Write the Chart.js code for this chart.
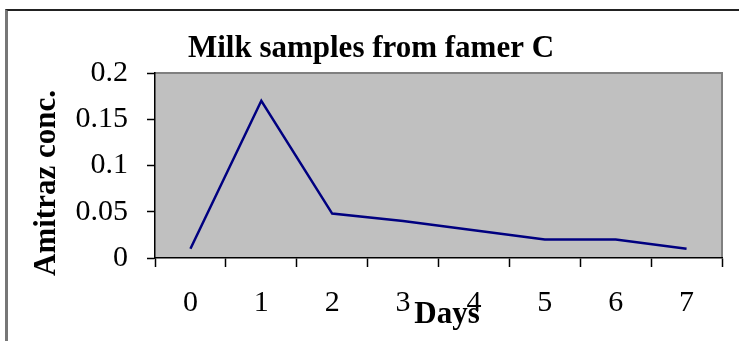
<!DOCTYPE html>
<html lang="en">

<head>
    <meta charset="UTF-8">
    <title>Milk samples from famer C</title>
    <script src="https://cdn.jsdelivr.net/npm/chart.js"></script>
    <style>
        html, body { margin: 0; padding: 0; background: #fff; }
        #wrap { position: relative; width: 739px; height: 341px; overflow: hidden; }
        /* outer frame of the chart, only top and left edges are in view */
        #frame {
            position: absolute; left: 5px; top: 9px; right: -10px; bottom: -10px;
            border-top: 2px solid #222; border-left: 3px solid #777;
            pointer-events: none;
        }
    </style>
</head>

<body>
    <div id="wrap">
        <canvas id="myChart" width="739" height="341"></canvas>
        <div id="frame"></div>
    </div>

    <script>
        // DATA
        const days = ['0', '1', '2', '3', '4', '5', '6', '7'];
        const amitraz = [0.01, 0.17, 0.048, 0.04, 0.03, 0.02, 0.02, 0.01];
        const yTickLabels = ['0', '0.05', '0.1', '0.15', '0.2'];

        const chartTitle = 'Milk samples from famer C';
        const xTitle = 'Days';
        const yTitle = 'Amitraz conc.';

        const serif = '"Liberation Serif", "Times New Roman", serif';

        // gray plot area + text labels drawn by hand
        const plotArea = {
            id: 'plotArea',
            beforeDraw(chart) {
                const { ctx, chartArea: a } = chart;
                ctx.save();
                ctx.fillStyle = '#c0c0c0';
                ctx.fillRect(a.left, a.top, a.right - a.left, a.bottom - a.top);
                ctx.strokeStyle = '#808080';
                ctx.lineWidth = 2;
                ctx.beginPath();
                ctx.moveTo(a.left, a.top);
                ctx.lineTo(a.right, a.top);
                ctx.lineTo(a.right, a.bottom);
                ctx.stroke();
                ctx.restore();
            },
            afterDraw(chart) {
                const { ctx } = chart;
                ctx.save();
                ctx.fillStyle = '#000';
                ctx.textAlign = 'center';
                ctx.textBaseline = 'alphabetic';
                // title
                ctx.font = 'bold 31px ' + serif;
                ctx.fillText(chartTitle, 371, 57);
                // x title, overlapping the tick labels like the original
                ctx.font = 'bold 31px ' + serif;
                ctx.fillText(xTitle, 447, 323);
                // y title
                ctx.translate(55, 183);
                ctx.rotate(-Math.PI / 2);
                ctx.fillText(yTitle, 0, 0);
                ctx.restore();
            }
        };

        const data = {
            labels: days,
            datasets: [{
                label: 'Amitraz',
                data: amitraz,
                borderColor: '#000080',
                borderWidth: 2.5,
                pointRadius: 0,
                tension: 0,
                fill: false
            }]
        };

        const config = {
            type: 'line',
            data: data,
            options: {
                responsive: false,
                animation: false,
                layout: { padding: { left: 0, right: 17, top: 73, bottom: 0 } },
                plugins: {
                    legend: { display: false },
                    title: { display: false },
                    tooltip: { enabled: false }
                },
                scales: {
                    x: {
                        offset: true,
                        grid: {
                            offset: true,
                            drawOnChartArea: false,
                            tickLength: 9,
                            tickColor: '#000',
                            tickWidth: 1.5
                        },
                        border: { color: '#000', width: 1.5 },
                        ticks: {
                            color: '#000',
                            padding: 18,
                            maxRotation: 0,
                            font: { family: serif, size: 30 }
                        },
                        afterFit(scale) { scale.height = 83; }
                    },
                    y: {
                        min: 0,
                        max: 0.2,
                        ticks: {
                            stepSize: 0.05,
                            color: '#000',
                            padding: 19,
                            font: { family: serif, size: 30 },
                            callback: (v, i) => yTickLabels[i]
                        },
                        grid: {
                            drawOnChartArea: false,
                            tickLength: 8,
                            tickColor: '#000',
                            tickWidth: 1.5
                        },
                        border: { color: '#000', width: 1.5 },
                        afterFit(scale) { scale.width = 155; }
                    }
                }
            }
        };

        const myChart = new Chart(document.getElementById('myChart'), {
            ...config,
            plugins: [plotArea]
        });
    </script>
</body>

</html>
